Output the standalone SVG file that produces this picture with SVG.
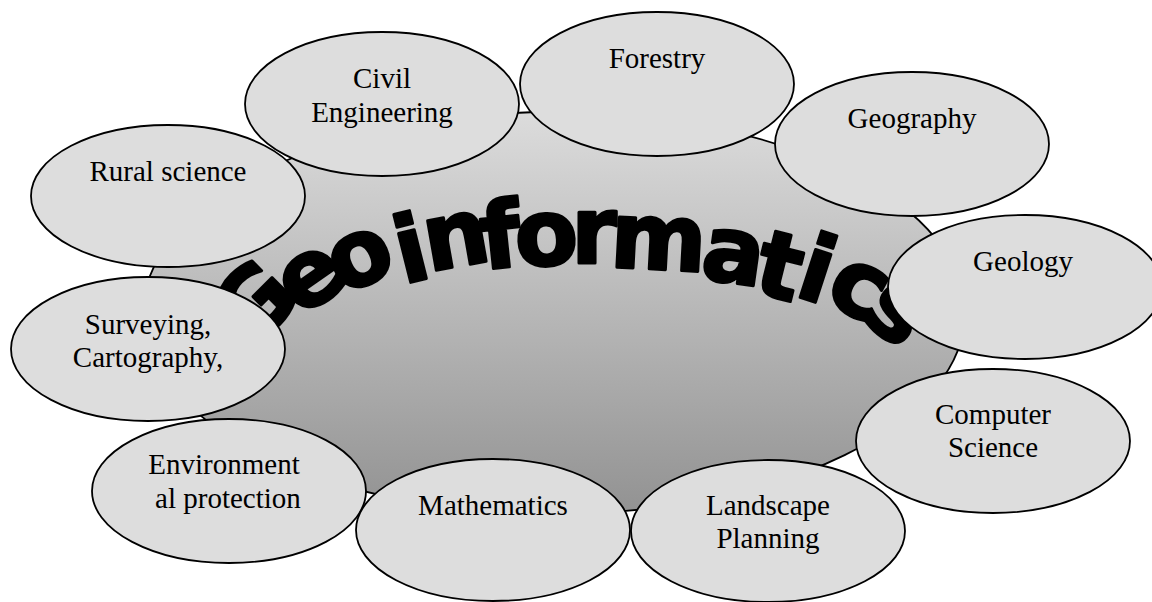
<svg xmlns="http://www.w3.org/2000/svg" width="1152" height="602" viewBox="0 0 1152 602">
<defs>
<linearGradient id="centerGrad" x1="0" y1="0" x2="0" y2="1">
<stop offset="0" stop-color="#dcdcdc"/>
<stop offset="1" stop-color="#929292"/>
</linearGradient>
<style>
.bubble{fill:#dddddd;stroke:#000;stroke-width:1.8}
.lbl{font-family:"Liberation Serif","Times New Roman",serif;font-size:29px;fill:#000;text-anchor:middle}
.title{font-family:"DejaVu Sans","Liberation Sans",sans-serif;font-weight:bold;font-size:92px;fill:#000;stroke:#000;stroke-width:3;stroke-linejoin:round}
</style>
</defs>
<rect width="1152" height="602" fill="#ffffff"/>
<g id="geoinformatics">
<ellipse cx="554" cy="313" rx="411" ry="201" fill="url(#centerGrad)" stroke="#000" stroke-width="1.8"/>
<text class="title" x="249.7 300.7 342.0 403.2 428.8 483.8 516.3 571.3 609.2 699.1 751.0 792.7 821.9 858.3" y="352.5 317.8 295.3 284.3 271.5 269.4 266.8 263.2 266.7 278.1 291.7 294.9 299.3 315.9" rotate="-45 -35 -24 -14 -10 -6 -3 0 3 8 14 18 28 40">Geoinformatics</text>
</g>
<g id="connectors"></g>
<g id="rural-science"><ellipse class="bubble" cx="168" cy="196" rx="137" ry="71"/><text class="lbl" x="168" y="181">Rural science</text></g>
<g id="civil-engineering"><ellipse class="bubble" cx="382" cy="104" rx="137" ry="72"/><text class="lbl" x="382" y="88">Civil</text><text class="lbl" x="382" y="122">Engineering</text></g>
<g id="forestry"><ellipse class="bubble" cx="657" cy="84" rx="137" ry="72"/><text class="lbl" x="657" y="68">Forestry</text></g>
<g id="geography"><ellipse class="bubble" cx="912" cy="144" rx="137" ry="72"/><text class="lbl" x="912" y="128">Geography</text></g>
<g id="geology"><ellipse class="bubble" cx="1025" cy="287" rx="137" ry="72"/><text class="lbl" x="1023" y="271">Geology</text></g>
<g id="surveying"><ellipse class="bubble" cx="148" cy="349" rx="137" ry="72"/><text class="lbl" x="148" y="334">Surveying,</text><text class="lbl" x="148" y="367">Cartography,</text></g>
<g id="computer-science"><ellipse class="bubble" cx="993" cy="441" rx="137" ry="72"/><text class="lbl" x="993" y="424">Computer</text><text class="lbl" x="993" y="457">Science</text></g>
<g id="environmental-protection"><ellipse class="bubble" cx="229" cy="491" rx="137" ry="72"/><text class="lbl" x="224" y="474">Environment</text><text class="lbl" x="228" y="508">al protection</text></g>
<g id="mathematics"><ellipse class="bubble" cx="493" cy="530" rx="137" ry="71"/><text class="lbl" x="493" y="515">Mathematics</text></g>
<g id="landscape-planning"><ellipse class="bubble" cx="768" cy="531" rx="137" ry="71"/><text class="lbl" x="768" y="515">Landscape</text><text class="lbl" x="768" y="548">Planning</text></g>
</svg>
